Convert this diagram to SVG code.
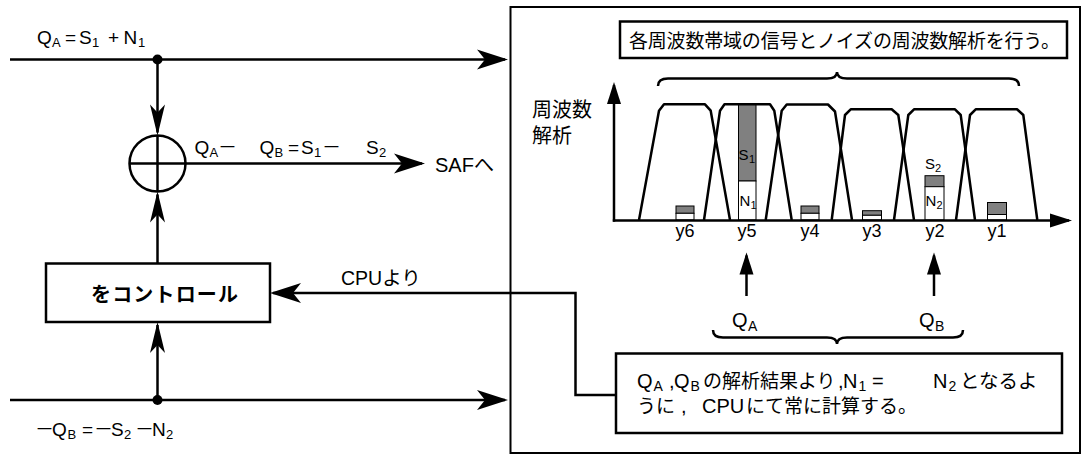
<svg xmlns="http://www.w3.org/2000/svg" width="1084" height="455" viewBox="0 0 1084 455">
<defs>
<style>
.ln{fill:none;stroke:#000;stroke-width:2.5}
.box{fill:#fff;stroke:#000;stroke-width:2.5}
.t{font-family:"Liberation Sans","Noto Sans CJK JP",sans-serif;fill:#000}
.j{font-family:"Noto Sans CJK JP",sans-serif;fill:#000}
.bar{fill:#808080;stroke:#000;stroke-width:1}
.wbar{fill:#fff;stroke:#000;stroke-width:1}
.sub{font-size:13px}
</style>
<marker id="aw" markerUnits="userSpaceOnUse" orient="auto" viewBox="-30 -11 34 22" markerWidth="34" markerHeight="22" refX="0" refY="0"><path d="M3,0 L-28,-10 L-20,0 L-28,10 Z" fill="#000"/></marker>
<marker id="an" markerUnits="userSpaceOnUse" orient="auto" viewBox="-30 -11 34 22" markerWidth="34" markerHeight="22" refX="0" refY="0"><path d="M3,0 L-28,-7.5 L-20,0 L-28,7.5 Z" fill="#000"/></marker>
<marker id="at" markerUnits="userSpaceOnUse" orient="auto" viewBox="-22 -9 26 18" markerWidth="26" markerHeight="18" refX="0" refY="0"><path d="M3,0 L-19,-7 L-19,7 Z" fill="#000"/></marker>
</defs>
<rect width="1084" height="455" fill="#fff"/>

<!-- analyzer outer box -->
<g id="analyzer">
<rect x="510.5" y="7" width="569.5" height="446" fill="none" stroke="#000" stroke-width="2"/>
</g>

<!-- title box -->
<g id="title">
<rect class="box" x="620" y="21.5" width="447" height="36.5"/>
<text class="j" x="629" y="47.5" font-size="19" textLength="431" lengthAdjust="spacing">各周波数帯域の信号とノイズの周波数解析を行う。</text>
</g>

<!-- spectrum chart -->
<g id="chart">
<path class="ln" d="M658,86 Q658,78.5 668,78.5 L827,78.5 Q837,78.5 837,72 Q837,78.5 847,78.5 L1009,78.5 Q1019,78.5 1019,86"/>
<text class="j" font-size="20"><tspan x="532" y="117">周波数</tspan><tspan x="532" y="143">解析</tspan></text>
<path class="ln" d="M639,220 L659,110.7 L664,104.3 L705,104.3 L710.7,110.7 L730,220" stroke-linejoin="round"/>
<path class="ln" d="M704,220 L720,110.7 L724.5,104.3 L770,104.3 L774.3,110.7 L791.7,220" stroke-linejoin="round"/>
<path class="ln" d="M765.7,220 L781.7,110.7 L786.7,104.5 L828,104.5 L835,111.5 L852,220" stroke-linejoin="round"/>
<path class="ln" d="M831.7,220 L845,115 L850.7,109.3 L891.7,109.3 L898.3,115 L914,220" stroke-linejoin="round"/>
<path class="ln" d="M894,220 L908.3,115 L914,109.3 L955,109.3 L960.7,115 L975,220" stroke-linejoin="round"/>
<path class="ln" d="M956,220 L970,115 L975.7,109.3 L1017,109.3 L1023.3,115 L1037.3,220" stroke-linejoin="round"/>
<!-- bars -->
<rect class="bar" x="676" y="206" width="18" height="7.3"/><rect class="wbar" x="676" y="213.3" width="18" height="6.7"/>
<rect class="bar" x="738.5" y="105" width="17.5" height="76"/><rect class="wbar" x="738.5" y="181" width="17.5" height="39"/>
<rect class="bar" x="801" y="206" width="18" height="7.3"/><rect class="wbar" x="801" y="213.3" width="18" height="6.7"/>
<rect class="bar" x="862.5" y="210.7" width="19" height="4.6"/><rect class="wbar" x="862.5" y="215.3" width="19" height="4.7"/>
<rect class="bar" x="925" y="175.7" width="19" height="11"/><rect class="wbar" x="925" y="186.7" width="19" height="33.3"/>
<rect class="bar" x="987.5" y="202.5" width="19" height="12"/><rect class="wbar" x="987.5" y="214.5" width="19" height="5.5"/>
<text class="t" font-size="15"><tspan x="738.5" y="160">S</tspan><tspan x="749" y="163" font-size="11">1</tspan></text>
<text class="t" font-size="15"><tspan x="739.5" y="205.5">N</tspan><tspan x="750.5" y="208.5" font-size="11">1</tspan></text>
<text class="t" font-size="15"><tspan x="925" y="169">S</tspan><tspan x="935" y="172" font-size="11">2</tspan></text>
<text class="t" font-size="15"><tspan x="925.5" y="205.5">N</tspan><tspan x="936.5" y="208.5" font-size="11">2</tspan></text>
<g class="t" font-size="18" text-anchor="middle">
<text x="685" y="237">y6</text>
<text x="747" y="237">y5</text>
<text x="810" y="237">y4</text>
<text x="872" y="237">y3</text>
<text x="935" y="237">y2</text>
<text x="997" y="237">y1</text>
</g>
</g>

<!-- QA / QB labels -->
<g id="qlabels">
<text class="t" font-size="20"><tspan x="732" y="327">Q</tspan><tspan x="748" y="330.5" font-size="14">A</tspan></text>
<text class="t" font-size="20"><tspan x="919" y="327">Q</tspan><tspan x="935" y="330.5" font-size="14">B</tspan></text>
<path class="ln" d="M713,330 Q713,337.5 723,337.5 L827,337.5 Q837,337.5 837,344 Q837,337.5 847,337.5 L953,337.5 Q963,337.5 963,330"/>
</g>

<!-- calculation box -->
<g id="calc">
<rect class="box" x="616" y="353.5" width="446" height="79.5"/>
<text class="t" font-size="20">
<tspan x="637" y="387.5">Q</tspan><tspan x="653.5" y="390.5" font-size="14">A</tspan>
<tspan x="669" y="387.5">,</tspan>
<tspan x="674" y="387.5">Q</tspan><tspan x="690.5" y="390.5" font-size="14">B</tspan>
<tspan x="703" y="387.5" class="j" font-size="19">の解析結果より</tspan>
<tspan x="838" y="387.5">,</tspan>
<tspan x="843" y="387.5">N</tspan><tspan x="858.5" y="390.5" font-size="14">1</tspan>
<tspan x="872" y="387.5">=</tspan>
<tspan x="933" y="387.5">N</tspan><tspan x="948.5" y="390.5" font-size="14">2</tspan>
<tspan x="960" y="387.5" class="j" font-size="19.5">となるよ</tspan>
</text>
<text class="t" font-size="20">
<tspan x="637" y="412.5" class="j" font-size="19">うに</tspan>
<tspan x="681" y="412.5">,</tspan>
<tspan x="702" y="412.5">CPU</tspan>
<tspan x="746" y="412.5" class="j" font-size="19">にて常に計算する。</tspan>
</text>
</g>

<!-- summing junction -->
<g id="summer">
<circle cx="157.5" cy="163.5" r="28" fill="#fff" stroke="#000" stroke-width="2.5"/>
<line class="ln" x1="157.5" y1="135.5" x2="157.5" y2="191.5"/>
<line class="ln" x1="129.5" y1="163.5" x2="185.5" y2="163.5"/>
</g>

<!-- control box -->
<g id="control">
<rect class="box" x="46" y="263.5" width="224" height="58.5"/>
<text class="j" x="91" y="302" font-size="20" font-weight="bold" textLength="147" lengthAdjust="spacing">をコントロール</text>
</g>

<!-- labels -->
<g id="labels">
<text class="t" font-size="19"><tspan x="37" y="44">Q</tspan><tspan x="52" y="47" class="sub">A</tspan><tspan x="65" y="44">=</tspan><tspan x="79" y="44">S</tspan><tspan x="92" y="47" class="sub">1</tspan><tspan x="108" y="44">+</tspan><tspan x="123.5" y="44">N</tspan><tspan x="138" y="47" class="sub">1</tspan></text>
<text class="t" font-size="19"><tspan x="194.5" y="154">Q</tspan><tspan x="209.5" y="157" class="sub">A</tspan><tspan x="218" y="154" class="j">－</tspan><tspan x="259.5" y="154">Q</tspan><tspan x="274.5" y="157" class="sub">B</tspan><tspan x="288" y="154">=</tspan><tspan x="301" y="154">S</tspan><tspan x="314" y="157" class="sub">1</tspan><tspan x="322" y="154" class="j">－</tspan><tspan x="366" y="154">S</tspan><tspan x="379" y="157" class="sub">2</tspan></text>
<text class="t" x="435" y="172" font-size="20">SAFへ</text>
<text class="t" x="341" y="285" font-size="19.5">CPUより</text>
<text class="t" font-size="19"><tspan x="35" y="436" class="j">－</tspan><tspan x="52" y="436">Q</tspan><tspan x="67.5" y="439" class="sub">B</tspan><tspan x="82" y="436">=</tspan><tspan x="94" y="436" class="j">－</tspan><tspan x="111" y="436">S</tspan><tspan x="124" y="439" class="sub">2</tspan><tspan x="135" y="436" class="j">－</tspan><tspan x="152" y="436">N</tspan><tspan x="166" y="439" class="sub">2</tspan></text>
</g>

<!-- connectors -->
<g id="connectors">
<path class="ln" d="M10,59.5 L505,59.5" marker-end="url(#aw)"/>
<path class="ln" d="M10,400 L505,400" marker-end="url(#aw)"/>
<path class="ln" d="M157.5,59.5 L157.5,132.5" marker-end="url(#an)"/>
<path class="ln" d="M157.5,263.5 L157.5,194.5" marker-end="url(#an)"/>
<path class="ln" d="M157.5,400 L157.5,325" marker-end="url(#an)"/>
<path class="ln" d="M185.5,163.5 L422,163.5" marker-end="url(#aw)"/>
<path class="ln" d="M616,395 L575.5,395 L575.5,293 L273,293" marker-end="url(#aw)"/>
<path class="ln" d="M746.5,296 L746.5,255.5" marker-end="url(#at)"/>
<path class="ln" d="M934,296 L934,255.5" marker-end="url(#at)"/>
<path class="ln" d="M614,221.7 L614,85" marker-end="url(#at)"/>
<path class="ln" d="M612.8,220.5 L1069,220.5" marker-end="url(#at)"/>
<circle cx="157.5" cy="59.5" r="5"/>
<circle cx="157.5" cy="400" r="5"/>
</g>
</svg>
